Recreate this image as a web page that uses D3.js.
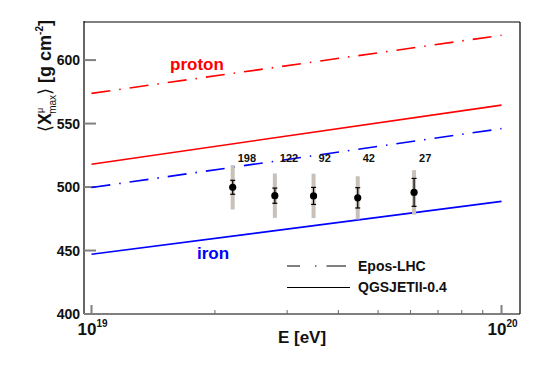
<!DOCTYPE html>
<html>
<head>
<meta charset="utf-8">
<script src="https://cdn.jsdelivr.net/npm/d3@7"></script>
<style>
  body { margin: 0; background: #fff; }
  text { font-family: "Liberation Sans", Arial, Helvetica, sans-serif; }
</style>
</head>
<body>
<svg id="chart"></svg>
<script>
var width = 545, height = 366;

// model predictions, straight in log(E)
var lineEnergies = [1e19, 1e20];
var protonEpos = [573.8, 619.5];
var protonQgs = [518, 564.5];
var ironEpos = [499.6, 546];
var ironQgs = [447, 488.7];

// measured points
var energies = [2.21e19, 2.80e19, 3.48e19, 4.46e19, 6.12e19];
var means = [499.8, 493.2, 493, 491.5, 495.8];
var statErr = [5.5, 6, 6.7, 8, 11];
var sysErr = [17.5, 17.5, 17.5, 17, 17.5];
var counts = ["198", "122", "92", "42", "27"];

var yTicks = [400, 450, 500, 550, 600];
var xMajor = [1e19, 1e20];
var xMinor = [2e19, 3e19, 4e19, 5e19, 6e19, 7e19, 8e19, 9e19];

var frame = {left: 84, right: 520, top: 22, bottom: 314};

var svg = d3.select("#chart")
    .attr("width", width)
    .attr("height", height);

var x = d3.scaleLog()
    .domain([Math.pow(10, 18.9817), Math.pow(10, 20.0451)])
    .range([frame.left, frame.right]);

var y = d3.scaleLinear()
    .domain([400, 630])
    .range([frame.bottom, frame.top]);

// frame
svg.append("line").attr("x1", frame.left).attr("x2", frame.right)
    .attr("y1", frame.top).attr("y2", frame.top)
    .attr("stroke", "#808080").attr("stroke-width", 2);
svg.append("line").attr("x1", frame.right).attr("x2", frame.right)
    .attr("y1", frame.top).attr("y2", frame.bottom)
    .attr("stroke", "#000").attr("stroke-width", 1.2);
svg.append("line").attr("x1", frame.left).attr("x2", frame.left)
    .attr("y1", frame.top - 1).attr("y2", frame.bottom)
    .attr("stroke", "#000").attr("stroke-width", 1.2);
svg.append("line").attr("x1", frame.left).attr("x2", frame.right)
    .attr("y1", frame.bottom).attr("y2", frame.bottom)
    .attr("stroke", "#000").attr("stroke-width", 1.2);

// y ticks
svg.selectAll(".ytick").data(yTicks).enter().append("line")
    .attr("x1", frame.left).attr("x2", frame.left + 12)
    .attr("y1", function(d) { return y(d); })
    .attr("y2", function(d) { return y(d); })
    .attr("stroke", "#808080").attr("stroke-width", 2);

svg.selectAll(".ylab").data(yTicks).enter().append("text")
    .attr("x", frame.left - 4)
    .attr("y", function(d) { return y(d) + 5; })
    .attr("text-anchor", "end")
    .style("font-size", "14px").style("font-weight", "bold")
    .attr("fill", "#111")
    .text(function(d) { return d; });

// x ticks
svg.selectAll(".xmaj").data(xMajor).enter().append("line")
    .attr("x1", function(d) { return x(d); })
    .attr("x2", function(d) { return x(d); })
    .attr("y1", frame.bottom).attr("y2", frame.bottom - 9)
    .attr("stroke", "#808080").attr("stroke-width", 2);
svg.selectAll(".xmin").data(xMinor).enter().append("line")
    .attr("x1", function(d) { return x(d); })
    .attr("x2", function(d) { return x(d); })
    .attr("y1", frame.bottom).attr("y2", frame.bottom - 4)
    .attr("stroke", "#666").attr("stroke-width", 1);

var xLabs = svg.selectAll(".xlab").data(xMajor).enter().append("text")
    .attr("x", function(d) { return x(d) - 14; })
    .attr("y", 335)
    .style("font-size", "17px").style("font-weight", "bold")
    .attr("fill", "#111");
xLabs.append("tspan").text("10");
xLabs.append("tspan").attr("dy", -8).style("font-size", "10px")
    .text(function(d) { return Math.round(Math.log10(d)); });

// axis titles
svg.append("text")
    .attr("x", 302).attr("y", 343)
    .attr("text-anchor", "middle")
    .style("font-size", "17px").style("font-weight", "bold")
    .attr("fill", "#111")
    .text("E [eV]");

var yTitle = svg.append("text")
    .attr("transform", "translate(51,20) rotate(-90)")
    .attr("text-anchor", "end")
    .style("font-size", "18px").style("font-weight", "bold")
    .attr("fill", "#111");
yTitle.append("tspan").style("font-weight", "normal").text("\u27E8");
yTitle.append("tspan").text("X");
yTitle.append("tspan").attr("dy", -8).style("font-size", "9px").style("font-weight", "normal").text("\u03BC");
yTitle.append("tspan").attr("dx", -6).attr("dy", 13).style("font-size", "10px").style("font-weight", "normal").text("max");
yTitle.append("tspan").attr("dy", -5).style("font-weight", "normal").text("\u27E9");
yTitle.append("tspan").text(" [g cm");
yTitle.append("tspan").attr("dy", -8).style("font-size", "10px").text("-2");
yTitle.append("tspan").attr("dy", 8).text("]");

// model lines
var line = d3.line()
    .x(function(d) { return x(d[0]); })
    .y(function(d) { return y(d[1]); });

function drawModel(vals, color, dashed) {
    svg.append("path")
        .datum(d3.zip(lineEnergies, vals))
        .attr("d", line)
        .attr("fill", "none")
        .attr("stroke", color)
        .attr("stroke-width", 1.6)
        .attr("stroke-dasharray", dashed ? "19,9,1.5,9" : null);
}
drawModel(protonEpos, "#ff0000", true);
drawModel(protonQgs, "#ff0000", false);
drawModel(ironEpos, "#0000ff", true);
drawModel(ironQgs, "#0000ff", false);

svg.append("text").attr("x", 170).attr("y", 70)
    .style("font-size", "17px").style("font-weight", "bold")
    .attr("fill", "#ff0000").text("proton");
svg.append("text").attr("x", 197).attr("y", 259)
    .style("font-size", "17px").style("font-weight", "bold")
    .attr("fill", "#0000ff").text("iron");

// data points
var pts = d3.range(energies.length).map(function(i) {
    return {e: energies[i], m: means[i], st: statErr[i], sy: sysErr[i], n: counts[i]};
});

var g = svg.selectAll(".pt").data(pts).enter().append("g");

g.append("rect")
    .attr("x", function(d) { return x(d.e) - 2; })
    .attr("y", function(d) { return y(d.m + d.sy); })
    .attr("width", 4)
    .attr("height", function(d) { return y(d.m - d.sy) - y(d.m + d.sy); })
    .attr("fill", "#c9c1b9");

g.append("line")
    .attr("x1", function(d) { return x(d.e); })
    .attr("x2", function(d) { return x(d.e); })
    .attr("y1", function(d) { return y(d.m + d.st); })
    .attr("y2", function(d) { return y(d.m - d.st); })
    .attr("stroke", "#000").attr("stroke-width", 1.2);
[1, -1].forEach(function(s) {
    g.append("line")
        .attr("x1", function(d) { return x(d.e) - 2.5; })
        .attr("x2", function(d) { return x(d.e) + 2.5; })
        .attr("y1", function(d) { return y(d.m + s * d.st); })
        .attr("y2", function(d) { return y(d.m + s * d.st); })
        .attr("stroke", "#000").attr("stroke-width", 1.2);
});

g.append("circle")
    .attr("cx", function(d) { return x(d.e); })
    .attr("cy", function(d) { return y(d.m); })
    .attr("r", 3.6)
    .attr("fill", "#000");

g.append("text")
    .attr("x", function(d) { return x(d.e) + 5; })
    .attr("y", y(519.5))
    .style("font-size", "11px").style("font-weight", "bold")
    .attr("fill", "#111")
    .text(function(d) { return d.n; });

// legend
svg.append("line").attr("x1", 287).attr("x2", 346)
    .attr("y1", 266).attr("y2", 266)
    .attr("stroke", "#000").attr("stroke-width", 1)
    .attr("stroke-dasharray", "13,15,1.5,10,20");
svg.append("line").attr("x1", 287).attr("x2", 350)
    .attr("y1", 287.5).attr("y2", 287.5)
    .attr("stroke", "#000").attr("stroke-width", 1);
svg.append("text").attr("x", 358).attr("y", 271)
    .style("font-size", "14px").style("font-weight", "bold")
    .attr("fill", "#111").text("Epos-LHC");
svg.append("text").attr("x", 358).attr("y", 292)
    .style("font-size", "14px").style("font-weight", "bold")
    .attr("fill", "#111").text("QGSJETII-0.4");
</script>
</body>
</html>
